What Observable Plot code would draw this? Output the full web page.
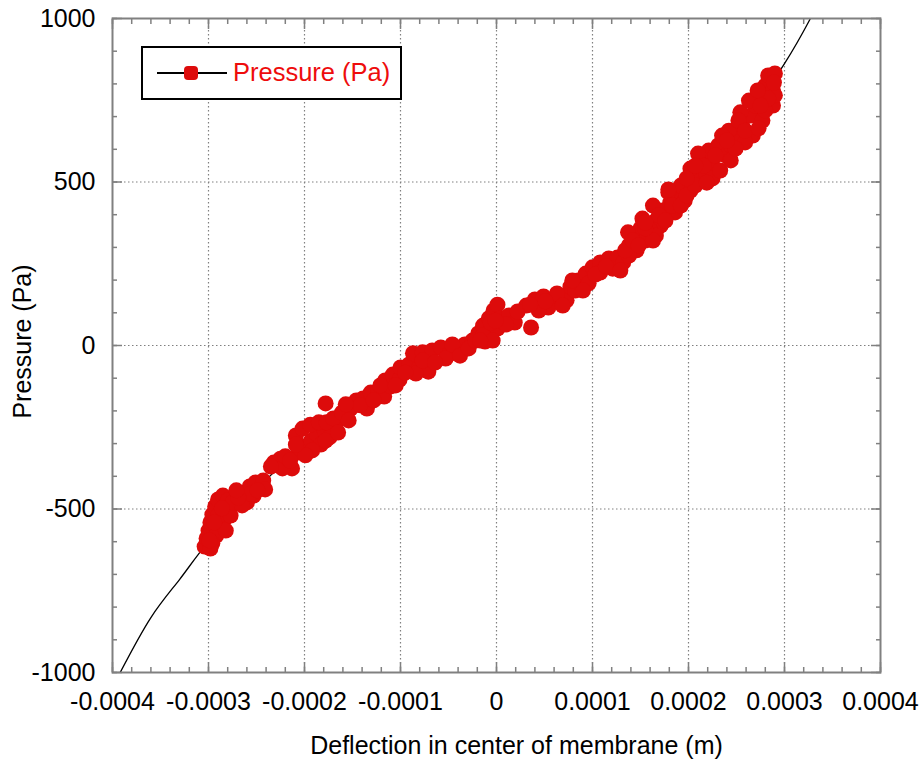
<!DOCTYPE html>
<html>
<head>
<meta charset="utf-8">
<script src="https://cdn.jsdelivr.net/npm/d3@7"></script>
<script src="https://cdn.jsdelivr.net/npm/@observablehq/plot@0.6"></script>
<style>
  body { margin: 0; background: white; }
  #wrap { position: relative; width: 920px; height: 760px; font-family: "Liberation Sans", Arial, sans-serif; }
  #legend { position: absolute; left: 141px; top: 46px; width: 257px; height: 50px; border: 2px solid black; background: white; }
  #legend .ln { position: absolute; left: 14px; top: 24px; width: 70px; height: 2px; background: black; }
  #legend .mk { position: absolute; left: 41px; top: 18px; width: 14px; height: 14px; border-radius: 4px; background: #dd0b0b; }
  #legend .tx { position: absolute; left: 90px; top: 10px; font-size: 25.5px; color: #ee0c0c; line-height: 29px; }
</style>
</head>
<body>
<div id="wrap"></div>
<script>
// Measured data: deflection (m) and pressure (Pa)
const deflection = [
-0.000304,-0.000302,-0.000300,-0.000298,-0.000296,-0.000293,-0.000290,-0.000285,-0.000280,-0.000279,-0.000283,-0.000288,-0.000292,-0.000296,-0.000298,-0.000290,
-0.000267,-0.000263,-0.000257,-0.000251,-0.000253,-0.000260,
-0.000243,-0.000241,
-0.000232,-0.000225,-0.000217,-0.000213,-0.000223,
-0.000206,-0.000199,-0.000193,-0.000187,-0.000179,-0.000172,-0.000165,-0.000174,-0.000183,-0.000158,-0.000192,
-0.000178,
-0.000152,-0.000146,-0.000139,-0.000135,
-0.000131,-0.000123,-0.000117,
-0.000116,-0.000108,-0.000101,-0.000110,
-0.000100,-0.000091,-0.000081,-0.000071,-0.000084,
-0.000087,-0.000077,
-0.000067,-0.000058,-0.000050,-0.000041,-0.000033,-0.000053,
-0.000025,-0.000019,-0.000014,-0.000008,-0.000003,0.000001,-0.000006,-0.000012,0.000001,0.000004,
0.000013,0.000019,0.000010,
0.000036,
0.000031,0.000040,0.000049,0.000058,0.000067,0.000054,0.000044,0.000073,
0.000077,0.000085,0.000093,0.000100,0.000082,0.000096,
0.000108,0.000117,0.000126,0.000121,0.000108,0.000132,
0.000138,0.000144,0.000150,0.000146,0.000155,
0.000158,0.000166,0.000173,0.000181,0.000190,0.000171,0.000186,0.000196,
0.000202,0.000210,0.000218,0.000225,0.000213,0.000221,0.000231,0.000239,0.000244,0.000225,0.000210,
0.000249,0.000256,0.000265,0.000270,0.000275,0.000280,0.000283,0.000290,0.000288,0.000288,0.000277,0.000267,0.000259,0.000242,0.000254,
0.000290,
0.000202,0.000192,0.000179,0.000163,0.000152,0.000137,
-0.000282,-0.000277,-0.000275,-0.000299,-0.000286,-0.000294,
-0.000265,-0.000256,-0.000249,-0.000269,
-0.000220,-0.000215,-0.000235,
-0.000209,-0.000202,-0.000194,-0.000185,-0.000177,-0.000170,-0.000161,-0.000199,-0.000178,-0.000165,-0.000154,
-0.000142,-0.000128,-0.000121,-0.000105,-0.000095,-0.000077,-0.000064,
-0.000046,-0.000038,-0.000029,-0.000022,-0.000014,-0.000006,-0.000001,-0.000004,-0.000017,
0.000022,0.000035,0.000063,0.000051,0.000069,
0.000090,0.000103,0.000114,0.000129,0.000138,0.000079,
0.000134,0.000142,0.000148,0.000160,0.000166,0.000169,0.000176,0.000183,0.000192,0.000198,0.000163,0.000155,
0.000207,0.000216,0.000219,0.000228,0.000233,0.000235,0.000244,0.000249,0.000252,0.000259,0.000263,
0.000273,0.000280,0.000283,0.000289,0.000275,0.000272,
-0.000271,-0.000209,-0.000157,0.000155,0.000179,0.000198,0.000207,0.000240
];
const pressure = [
-615,-590,-566,-541,-517,-492,-471,-459,-474,-505,-529,-557,-581,-605,-621,-520,
-474,-450,-431,-419,-459,-480,
-413,-440,
-358,-346,-361,-376,-376,
-327,-309,-291,-272,-260,-245,-229,-281,-303,-214,-321,
-177,
-193,-168,-162,-193,
-144,-138,-156,
-107,-89,-104,-125,
-67,-58,-70,-80,-86,
-24,-21,
-15,-6,-28,-12,3,-40,
15,37,61,83,107,125,46,12,52,83,
92,70,64,
55,
122,141,150,138,150,116,107,138,
180,199,220,239,168,190,
254,266,269,235,223,254,
306,333,358,291,321,
358,382,413,437,450,367,407,443,
474,505,529,550,566,596,612,581,612,511,587,
642,673,703,734,765,795,826,832,780,734,688,642,621,657,713,
765,
541,489,468,428,388,346,
-566,-520,-480,-596,-498,-541,
-489,-453,-443,-465,
-339,-352,-370,
-275,-254,-242,-235,-235,-223,-205,-336,-291,-266,-229,
-183,-168,-122,-122,-83,-46,-52,
3,-31,-9,15,31,70,76,15,15,
104,125,159,135,122,
168,217,242,229,275,199,
291,321,306,352,336,398,382,428,428,459,321,358,
489,550,498,581,535,642,566,602,688,657,749,
664,719,755,804,734,780,
-443,-303,-180,376,477,511,550,627
];

// Fitted curve
const fitDeflection = [-0.000392,-0.00036,-0.00033,-0.0003,-0.00025,-0.0002,-0.00015,-0.0001,-0.00005,0,0.00005,0.0001,0.00015,0.0002,0.00025,0.0003,0.000327];
const fitPressure   = [-1000,-832,-715,-600,-440,-300,-178,-80,0,65,135,220,345,480,650,862,1000];

// Axis ticks and titles
const xTicks = [-0.0004,-0.0003,-0.0002,-0.0001,0,0.0001,0.0002,0.0003,0.0004];
const xTickLabels = ["-0.0004","-0.0003","-0.0002","-0.0001","0","0.0001","0.0002","0.0003","0.0004"];
const yTicks = [-1000,-500,0,500,1000];
const yTickLabels = ["-1000","-500","0","500","1000"];
const xTitle = "Deflection in center of membrane (m)";
const yTitle = "Pressure (Pa)";

const n = Math.min(deflection.length, pressure.length);
const pts = d3.range(n).map(i => ({x: deflection[i], y: pressure[i]}));
const fit = fitDeflection.map((d, i) => ({x: d, y: fitPressure[i]}));

const xMinor = d3.range(-20, 21).map(k => k * 0.00002);
const yMinor = d3.range(-10, 11).map(k => k * 100);
const fmtX = d => xTickLabels[xTicks.findIndex(t => Math.abs(t - d) < 1e-9)] ?? "";
const fmtY = d => yTickLabels[yTicks.indexOf(d)] ?? "";
const grey = "#808080";
const blank = () => "";
const tk = {tickFormat: blank, label: null, stroke: grey, strokeWidth: 1.5};

const chart = Plot.plot({
  width: 920,
  height: 760,
  marginLeft: 112,
  marginRight: 40,
  marginTop: 18,
  marginBottom: 88,
  style: {fontFamily: "'Liberation Sans', Arial, sans-serif", fontSize: "25px", color: "black", background: "white"},
  x: {domain: [-0.0004, 0.0004]},
  y: {domain: [-1000, 1000]},
  marks: [
    Plot.gridX(xTicks.slice(1, -1), {stroke: grey, strokeOpacity: 1, strokeDasharray: "1.5,2.5", strokeWidth: 1.2}),
    Plot.gridY(yTicks.slice(1, -1), {stroke: grey, strokeOpacity: 1, strokeDasharray: "1.5,2.5", strokeWidth: 1.2}),
    // minor ticks (drawn inward)
    Plot.axisX(xMinor, {anchor: "bottom", tickSize: 5, dy: -5, ...tk}),
    Plot.axisX(xMinor, {anchor: "top", tickSize: 5, dy: 5, ...tk}),
    Plot.axisY(yMinor, {anchor: "left", tickSize: 5, dx: 5, ...tk}),
    Plot.axisY(yMinor, {anchor: "right", tickSize: 5, dx: -5, ...tk}),
    // major ticks (drawn inward)
    Plot.axisX(xTicks, {anchor: "bottom", tickSize: 10, dy: -10, ...tk}),
    Plot.axisX(xTicks, {anchor: "top", tickSize: 10, dy: 10, ...tk}),
    Plot.axisY(yTicks, {anchor: "left", tickSize: 10, dx: 10, ...tk}),
    Plot.axisY(yTicks, {anchor: "right", tickSize: 10, dx: -10, ...tk}),
    // tick labels
    Plot.axisX(xTicks, {anchor: "bottom", tickSize: 0, tickPadding: 20, tickFormat: fmtX, fontSize: 25, label: null}),
    Plot.axisY(yTicks, {anchor: "left", tickSize: 0, tickPadding: 17, tickFormat: fmtY, fontSize: 25, label: null}),
    // axis titles
    Plot.text([xTitle], {frameAnchor: "bottom", dx: 20, dy: 73, lineAnchor: "middle", textAnchor: "middle", fontSize: 25, fill: "black"}),
    Plot.text([yTitle], {frameAnchor: "left", dx: -90, dy: -4, rotate: -90, lineAnchor: "middle", textAnchor: "middle", fontSize: 25, fill: "black"}),
    Plot.line(fit, {x: "x", y: "y", stroke: "black", strokeWidth: 1.3, curve: "natural", clip: true}),
    Plot.dot(pts, {x: "x", y: "y", r: 8, fill: "#dd0b0b", stroke: "none"}),
    Plot.frame({stroke: grey, strokeWidth: 2})
  ]
});

const wrap = document.getElementById("wrap");
wrap.appendChild(chart);
const legend = document.createElement("div");
legend.id = "legend";
legend.innerHTML = '<div class="ln"></div><div class="mk"></div><div class="tx">Pressure (Pa)</div>';
wrap.appendChild(legend);
</script>
</body>
</html>
